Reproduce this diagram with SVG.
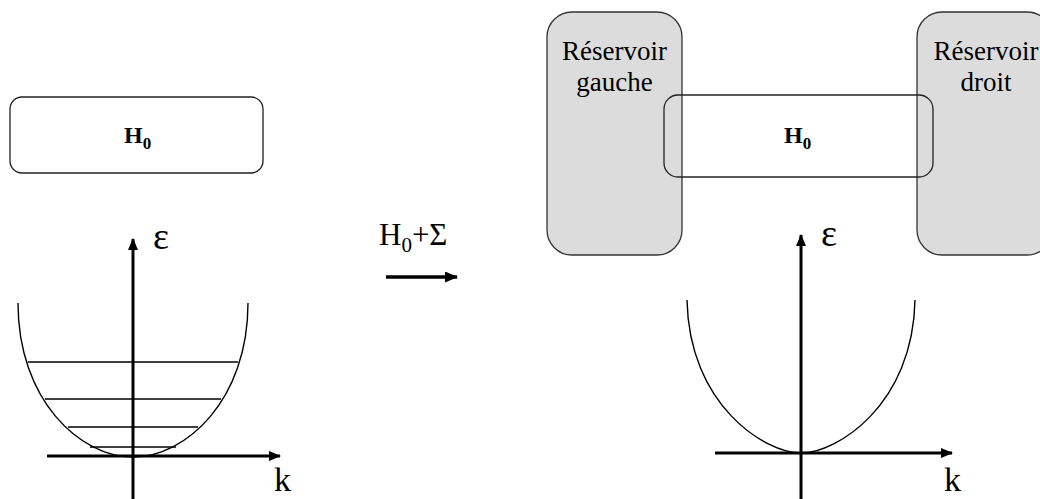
<svg xmlns="http://www.w3.org/2000/svg" width="1040" height="499" viewBox="0 0 1040 499">
  <defs>
    <marker id="ah" viewBox="0 0 12 10" refX="11" refY="5" markerWidth="12" markerHeight="10" markerUnits="userSpaceOnUse" orient="auto">
      <path d="M0,0 L12,5 L0,10 Z" fill="#000"/>
    </marker>
    <marker id="ahBig" viewBox="0 0 13 11" refX="12" refY="5.5" markerWidth="13" markerHeight="11" markerUnits="userSpaceOnUse" orient="auto">
      <path d="M0,0 L13,5.5 L0,11 Z" fill="#000"/>
    </marker>
  </defs>
  <style>
    .box { fill: #fff; stroke: #222; stroke-width: 1.3; }
    .res { fill: #dcdcdc; stroke: #333; stroke-width: 1.3; }
    .frame { fill: none; stroke: #222; stroke-width: 1.3; }
    .axis { stroke: #000; stroke-width: 3; fill: none; }
    .curve { stroke: #000; stroke-width: 1.4; fill: none; }
    .lvl { stroke: #000; stroke-width: 1.3; }
    .hb { font-family: "Liberation Serif", serif; font-weight: bold; font-size: 24px; fill: #000; }
    .t { font-family: "Liberation Serif", serif; font-size: 27px; fill: #000; }
    .sym { font-family: "Liberation Serif", serif; font-size: 38px; fill: #000; }
    .kk { font-family: "Liberation Serif", serif; font-size: 34px; fill: #000; }
    .lab { font-family: "Liberation Serif", serif; font-size: 31px; fill: #000; }
  </style>

  <rect width="1040" height="499" fill="#fff"/>

  <g id="box-left">
    <rect class="box" x="10" y="97" width="253" height="76" rx="12"/>
    <text class="hb" x="124" y="143">H<tspan font-size="17" dy="6">0</tspan></text>
  </g>

  <g id="plot-left">
    <line class="axis" x1="133" y1="499" x2="133" y2="239" marker-end="url(#ah)"/>
    <line class="axis" x1="47" y1="456" x2="280" y2="456" marker-end="url(#ah)"/>
    <path class="curve" d="M18,303 C18,400 80,457 133,457 C186,457 248,400 248,303"/>
    <line class="lvl" x1="28" y1="362" x2="238" y2="362"/>
    <line class="lvl" x1="45" y1="399" x2="221" y2="399"/>
    <line class="lvl" x1="68" y1="427" x2="198" y2="427"/>
    <line class="lvl" x1="90" y1="447" x2="176" y2="447"/>
    <text class="sym" x="153" y="249">ε</text>
    <text class="kk" x="274" y="491">k</text>
  </g>

  <g id="transition-label">
    <text class="lab" x="379" y="245">H<tspan font-size="21" dy="7">0</tspan><tspan dy="-7">+Σ</tspan></text>
  </g>

  <g id="connectors">
    <line x1="386" y1="277" x2="457" y2="277" stroke="#000" stroke-width="3.5" marker-end="url(#ahBig)"/>
  </g>

  <g id="reservoir-left">
    <rect class="res" x="547" y="12" width="135" height="243" rx="25"/>
    <text class="t" x="614.5" y="60" text-anchor="middle">Réservoir</text>
    <text class="t" x="614.5" y="91" text-anchor="middle">gauche</text>
  </g>

  <g id="reservoir-right">
    <rect class="res" x="917" y="12" width="135" height="243" rx="25"/>
    <text class="t" x="986" y="60" text-anchor="middle">Réservoir</text>
    <text class="t" x="986" y="91" text-anchor="middle">droit</text>
  </g>

  <g id="box-middle">
    <rect class="frame" x="664" y="95" width="269" height="82" rx="14"/>
    <text class="hb" x="784" y="143">H<tspan font-size="17" dy="6">0</tspan></text>
  </g>

  <g id="plot-right">
    <line class="axis" x1="801" y1="499" x2="801" y2="235" marker-end="url(#ah)"/>
    <line class="axis" x1="715" y1="453" x2="952" y2="453" marker-end="url(#ah)"/>
    <path class="curve" d="M687,300 C689,405 765,453 801,453 C837,453 913,405 915,300"/>
    <text class="sym" x="821" y="246">ε</text>
    <text class="kk" x="944" y="491">k</text>
  </g>
</svg>
